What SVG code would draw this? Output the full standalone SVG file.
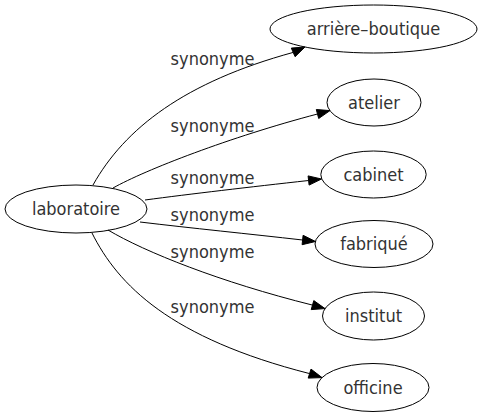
<svg xmlns="http://www.w3.org/2000/svg" width="482" height="419" viewBox="0 0 482 419">
<style>
text { font-family: "DejaVu Sans", "Liberation Sans", sans-serif; font-stretch: condensed; font-size: 18px; fill: #333; text-anchor: middle; }
ellipse { fill: none; stroke: #000; stroke-width: 1; }
.edge path { fill: none; stroke: #000; stroke-width: 1; }
.edge polygon { fill: #000; stroke: #000; stroke-width: 1; }
</style>
<rect width="482" height="419" fill="#fff"/>
<g id="edges" class="edge">
  <path d="M93,185 C125,128 185,82 293.2,52.4"/>
  <polygon points="305,47 291.3,48.1 295.1,56.7"/>
  <path d="M113,188 C145,170 230,137 317.5,114"/>
  <polygon points="330,110.6 316.3,109.5 318.7,118.5"/>
  <path d="M145,200 C190,194 250,187 308.6,180.5"/>
  <polygon points="321.5,179 308.1,175.9 309.1,185.1"/>
  <path d="M140,222 C190,228 250,234 302.6,240"/>
  <polygon points="315.5,241.5 303.1,235.3 302.1,244.7"/>
  <path d="M108,230 C145,252 220,282 312.5,305.1"/>
  <polygon points="325,308.6 313.8,300.6 311.2,309.6"/>
  <path d="M92,233 C118,285 170,338 309.6,373.6"/>
  <polygon points="322,377.6 311.0,369.1 308.2,378.1"/>
  <text x="212.5" y="65">synonyme</text>
  <text x="212.5" y="132">synonyme</text>
  <text x="212.5" y="184">synonyme</text>
  <text x="212.5" y="221">synonyme</text>
  <text x="212.5" y="258">synonyme</text>
  <text x="212.5" y="313">synonyme</text>
</g>
<g id="node-laboratoire">
  <ellipse cx="76" cy="209" rx="71" ry="24"/>
  <text x="76" y="215">laboratoire</text>
</g>
<g id="node-arriere-boutique">
  <ellipse cx="373.5" cy="29" rx="103.5" ry="24"/>
  <text x="373.5" y="35">arrière–boutique</text>
</g>
<g id="node-atelier">
  <ellipse cx="374" cy="102.5" rx="47" ry="23.5"/>
  <text x="374" y="108.5">atelier</text>
</g>
<g id="node-cabinet">
  <ellipse cx="373.5" cy="174.5" rx="52.7" ry="23.5"/>
  <text x="373.5" y="180.5">cabinet</text>
</g>
<g id="node-fabrique">
  <ellipse cx="374" cy="244" rx="59" ry="23.5"/>
  <text x="374" y="250">fabriqué</text>
</g>
<g id="node-institut">
  <ellipse cx="373.5" cy="316" rx="51" ry="24"/>
  <text x="373.5" y="322">institut</text>
</g>
<g id="node-officine">
  <ellipse cx="373" cy="387.5" rx="56" ry="24"/>
  <text x="373" y="393.5">officine</text>
</g>
</svg>
